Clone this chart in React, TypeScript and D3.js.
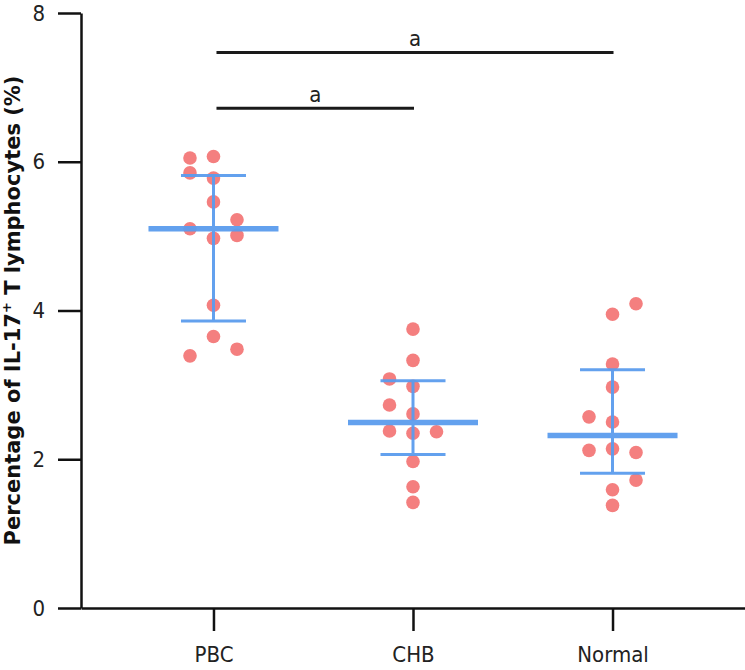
import React, { useEffect, useRef } from 'react';
import * as d3 from 'd3';

// values (percentage of IL-17+ T lymphocytes)
const groups = ['PBC', 'CHB', 'Normal'];
const pbcValues = [6.05, 6.07, 5.85, 5.78, 5.46, 5.22, 5.1, 5.01, 4.97, 4.07, 3.65, 3.48, 3.39];
const pbcLanes = [-1, 0, -1, 0, 0, 1, -1, 1, 0, 0, 0, 1, -1];
const chbValues = [3.75, 3.33, 3.08, 2.98, 2.73, 2.61, 2.38, 2.35, 2.37, 1.97, 1.63, 1.42];
const chbLanes = [0, 0, -1, 0, -1, 0, -1, 0, 1, 0, 0, 0];
const normalValues = [4.09, 3.95, 3.28, 2.97, 2.57, 2.5, 2.12, 2.14, 2.09, 1.72, 1.59, 1.38];
const normalLanes = [1, 0, 0, 0, -1, 0, -1, 0, 1, 1, 0, 0];
const yTicks = [0, 2, 4, 6, 8];
const comparisons = [
  { from: 'PBC', to: 'CHB', level: 6.72, label: 'a' },
  { from: 'PBC', to: 'Normal', level: 7.47, label: 'a' },
];

// quantile as GraphPad computes it: position (n + 1) * p
const quantile = (values: number[], p: number) => {
  const s = [...values].sort((a, b) => a - b);
  const pos = Math.min(Math.max((s.length + 1) * p - 1, 0), s.length - 1);
  const lo = Math.floor(pos);
  const hi = Math.min(lo + 1, s.length - 1);
  return s[lo] + (s[hi] - s[lo]) * (pos - lo);
};

const App: React.FC = () => {
  const ref = useRef<SVGSVGElement | null>(null);

  useEffect(() => {
    if (!ref.current) return;
    const svg = d3.select(ref.current);
    svg.selectAll('*').remove();

    const width = 745;
    const left = 81;
    const top = 13;
    const bottom = 608;

    const x = d3.scalePoint<string>().domain(groups).range([left, width]).padding(0.664);
    const y = d3.scaleLinear().domain([0, 8]).range([bottom, top]);
    const lane = d3.scaleLinear().domain([-1, 1]).range([-23.5, 23.5]);

    const series = [
      { group: 'PBC', values: pbcValues, lanes: pbcLanes },
      { group: 'CHB', values: chbValues, lanes: chbLanes },
      { group: 'Normal', values: normalValues, lanes: normalLanes },
    ];

    const dotColor = '#f47f7f';
    const barColor = '#5b9cee';

    // points first, summary lines drawn over them
    const g = svg.append('g');
    series.forEach((s) => {
      g.selectAll(null)
        .data(s.values.map((v, i) => ({ v, l: s.lanes[i] })))
        .enter()
        .append('circle')
        .attr('cx', (d) => (x(s.group) as number) + lane(d.l))
        .attr('cy', (d) => y(d.v))
        .attr('r', 6.8)
        .attr('fill', dotColor);
    });

    series.forEach((s) => {
      const cx = x(s.group) as number;
      const med = quantile(s.values, 0.5);
      const q1 = quantile(s.values, 0.25);
      const q3 = quantile(s.values, 0.75);
      const sg = g.append('g').attr('stroke', barColor).attr('opacity', 0.95);
      sg.append('line').attr('x1', cx).attr('x2', cx).attr('y1', y(q1)).attr('y2', y(q3)).attr('stroke-width', 3);
      [q1, q3].forEach((q) => {
        sg.append('line')
          .attr('x1', cx - 32.5)
          .attr('x2', cx + 32.5)
          .attr('y1', y(q))
          .attr('y2', y(q))
          .attr('stroke-width', 3);
      });
      sg.append('line')
        .attr('x1', cx - 65)
        .attr('x2', cx + 65)
        .attr('y1', y(med))
        .attr('y2', y(med))
        .attr('stroke-width', 5.5);
    });

    // significance brackets
    comparisons.forEach((c) => {
      const x1 = x(c.from) as number;
      const x2 = x(c.to) as number;
      svg
        .append('line')
        .attr('x1', x1 + 3)
        .attr('x2', x2 + 1)
        .attr('y1', y(c.level))
        .attr('y2', y(c.level))
        .attr('stroke', '#1a1a1a')
        .attr('stroke-width', 3);
      svg
        .append('text')
        .attr('x', (x1 + x2) / 2 + 2)
        .attr('y', y(c.level) - 6)
        .attr('text-anchor', 'middle')
        .attr('font-family', 'DejaVu Sans Condensed, DejaVu Sans')
        .attr('font-size', 22)
        .attr('fill', '#222')
        .text(c.label);
    });

    // axes
    const yAxis = svg
      .append('g')
      .attr('transform', `translate(${left},0)`)
      .call(d3.axisLeft(y).tickValues(yTicks).tickSize(23).tickSizeOuter(0).tickPadding(13));
    const xAxis = svg
      .append('g')
      .attr('transform', `translate(0,${bottom})`)
      .call(d3.axisBottom(x).tickSize(23).tickSizeOuter(0));

    [yAxis, xAxis].forEach((ax) => {
      ax.selectAll('path, line').attr('stroke', '#111').attr('stroke-width', 2.5);
      ax.selectAll('text')
        .attr('fill', '#222')
        .attr('font-family', 'DejaVu Sans Condensed, DejaVu Sans')
        .attr('font-size', 22);
    });
    xAxis.selectAll('text').attr('dy', null).attr('y', 54);

    const title = svg
      .append('text')
      .attr('transform', `translate(19.5,${(top + bottom) / 2}) rotate(-90)`)
      .attr('text-anchor', 'middle')
      .attr('font-family', 'DejaVu Sans')
      .attr('font-weight', 'bold')
      .attr('font-size', 21)
      .attr('fill', '#111');
    title.append('tspan').text('Percentage of IL-17');
    title.append('tspan').attr('font-size', 13).attr('dy', -9).text('+');
    title.append('tspan').attr('dy', 9).text(' T lymphocytes (%)');
  }, []);

  return (
    <svg
      ref={ref}
      width={745}
      height={670}
      style={{ position: 'absolute', left: 0, top: 0, background: '#fff' }}
    ></svg>
  );
};

export default App;
